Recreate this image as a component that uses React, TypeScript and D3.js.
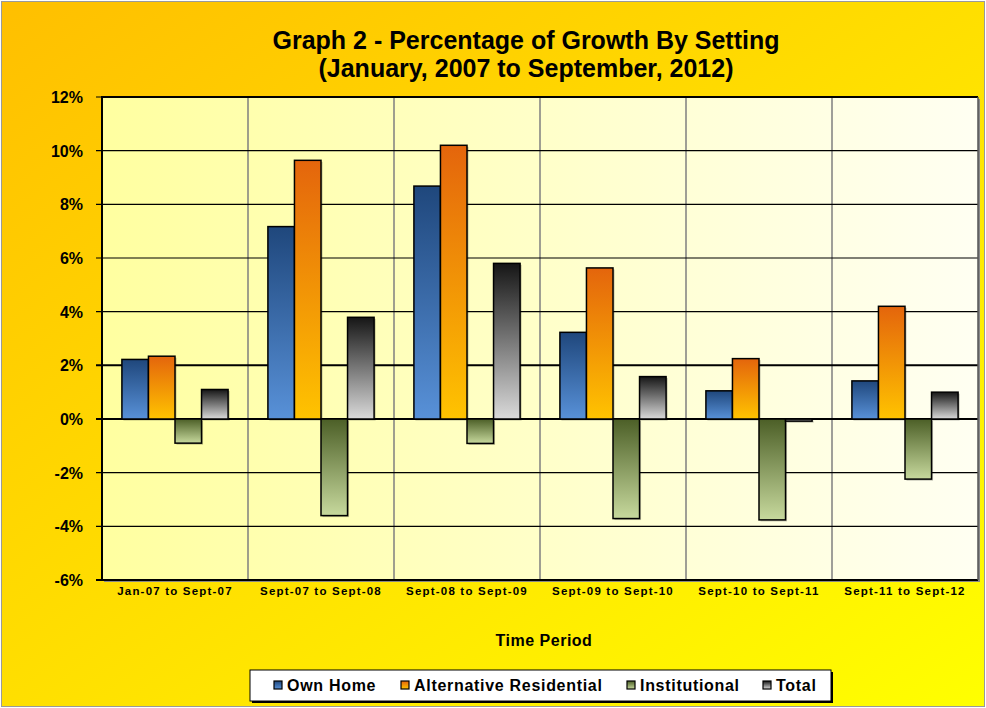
import React from 'react';
import * as d3 from 'd3';

const width = 986;
const height = 708;
const margin = { top: 97, right: 8, bottom: 128, left: 102 };

const categories = [
  'Jan-07 to Sept-07',
  'Sept-07 to Sept-08',
  'Sept-08 to Sept-09',
  'Sept-09 to Sept-10',
  'Sept-10 to Sept-11',
  'Sept-11 to Sept-12',
];
const seriesNames = ['Own Home', 'Alternative Residential', 'Institutional', 'Total'];
const ownHome = [2.22, 7.17, 8.68, 3.23, 1.05, 1.42];
const altResidential = [2.34, 9.64, 10.2, 5.63, 2.25, 4.2];
const institutional = [-0.9, -3.6, -0.91, -3.71, -3.76, -2.24];
const total = [1.1, 3.79, 5.8, 1.58, -0.08, 1.0];
const yTicks = [-6, -4, -2, 0, 2, 4, 6, 8, 10, 12];

const seriesValues = [ownHome, altResidential, institutional, total];
// gradient stops per series (top colour, bottom colour)
const seriesGrad = [
  ['#1f477c', '#5891d8'],
  ['#e4650c', '#ffc300'],
  ['#4c5f27', '#c7d99d'],
  ['#161616', '#dadada'],
];

const App = () => {
  const x = d3.scaleBand<string>()
    .domain(categories)
    .range([margin.left, width - margin.right])
    .paddingInner(0)
    .paddingOuter(0);

  const xInner = d3.scaleBand<string>()
    .domain(seriesNames)
    .range([0, x.bandwidth()])
    .paddingInner(0)
    .paddingOuter(0.75);

  const y = d3.scaleLinear()
    .domain([-6, 12])
    .range([height - margin.bottom, margin.top]);

  const plotLeft = margin.left;
  const plotRight = width - margin.right;
  const plotTop = y(12);
  const plotBottom = y(-6);

  const legendItems = [
    { name: seriesNames[0], x: 274 },
    { name: seriesNames[1], x: 401 },
    { name: seriesNames[2], x: 627 },
    { name: seriesNames[3], x: 763 },
  ];

  return (
    <svg width={width} height={height} style={{ position: 'absolute', left: 0, top: 0 }}
      fontFamily="Arial, 'Liberation Sans', sans-serif">
      <defs>
        <linearGradient id="bg" x1="0" y1="0" x2="1" y2="1">
          <stop offset="0%" stopColor="#ffbf00" />
          <stop offset="100%" stopColor="#ffff00" />
        </linearGradient>
        <linearGradient id="plotbg" x1="0" y1="0" x2="1" y2="0">
          <stop offset="0%" stopColor="#ffffa0" />
          <stop offset="100%" stopColor="#fffff2" />
        </linearGradient>
        {seriesGrad.map((g, i) => (
          <linearGradient key={i} id={`g${i}`} x1="0" y1="0" x2="0" y2="1">
            <stop offset="0%" stopColor={g[0]} />
            <stop offset="100%" stopColor={g[1]} />
          </linearGradient>
        ))}
      </defs>

      <rect x={1.5} y={1.5} width={width - 3} height={height - 3} fill="url(#bg)" stroke="#9a9a9a" strokeWidth={1} />

      {/* title */}
      <text x={526} y={49} textAnchor="middle" fontWeight="bold" fontSize={25}>
        Graph 2 - Percentage of Growth By Setting
      </text>
      <text x={526} y={77} textAnchor="middle" fontWeight="bold" fontSize={25}>
        (January, 2007 to September, 2012)
      </text>

      {/* plot area */}
      <rect x={plotLeft + 2} y={plotTop + 2} width={plotRight - plotLeft} height={plotBottom - plotTop} fill="#888" />
      <rect x={plotLeft} y={plotTop} width={plotRight - plotLeft} height={plotBottom - plotTop} fill="url(#plotbg)" />

      {/* vertical gridlines */}
      {categories.slice(1).map(c => (
        <line key={c} x1={x(c)} x2={x(c)} y1={plotTop} y2={plotBottom} stroke="#7f7f7f" strokeWidth={1.5} />
      ))}

      {/* horizontal gridlines */}
      {yTicks.map(t => (
        <line key={t} x1={plotLeft - 6} x2={plotRight} y1={y(t)} y2={y(t)} stroke="#000"
          strokeWidth={t === 0 || t === 2 ? 2 : 1.2} />
      ))}

      {/* bars */}
      {categories.map((c, ci) => (
        <g key={c} transform={`translate(${x(c)},0)`}>
          {seriesNames.map((s, si) => {
            const v = seriesValues[si][ci];
            const y0 = y(Math.max(0, v));
            const h = Math.max(Math.abs(y(v) - y(0)), 2);
            return (
              <g key={s}>
                <rect x={(xInner(s) as number) + 1.5} y={y0 + 1.5} width={xInner.bandwidth()} height={h}
                  fill="#000" opacity={0.25} />
                <rect x={xInner(s)} y={y0} width={xInner.bandwidth()} height={h}
                  fill={`url(#g${si})`} stroke="#000" strokeWidth={1.5} />
              </g>
            );
          })}
        </g>
      ))}

      {/* axes border */}
      <line x1={plotLeft} x2={plotRight} y1={plotTop} y2={plotTop} stroke="#000" strokeWidth={2} />
      <line x1={plotLeft} x2={plotLeft} y1={plotTop - 1} y2={plotBottom + 1} stroke="#000" strokeWidth={2} />
      <line x1={plotLeft - 6} x2={plotRight} y1={plotBottom} y2={plotBottom} stroke="#000" strokeWidth={2} />
      <line x1={plotRight} x2={plotRight} y1={plotTop} y2={plotBottom} stroke="#555" strokeWidth={1.5} />

      {/* y tick labels */}
      {yTicks.map(t => (
        <text key={t} x={83} y={y(t) + 6} textAnchor="end" fontWeight="bold" fontSize={16}>
          {`${t}%`}
        </text>
      ))}

      {/* x tick labels */}
      {categories.map(c => (
        <text key={c} x={(x(c) as number) + x.bandwidth() / 2} y={plotBottom + 15} textAnchor="middle"
          fontWeight="bold" fontSize={11.5} letterSpacing={1.2}>
          {c}
        </text>
      ))}

      <text x={544} y={646} textAnchor="middle" fontWeight="bold" fontSize={16} letterSpacing={0.5}>
        Time Period
      </text>

      {/* legend */}
      <rect x={252} y={672} width={581} height={31} fill="#000" />
      <rect x={250} y={670} width={581} height={31} fill="#fff" stroke="#000" strokeWidth={1} />
      {legendItems.map((it, i) => (
        <g key={it.name}>
          <rect x={it.x} y={681} width={8} height={8} fill={`url(#g${i})`} stroke="#000" strokeWidth={1.2} />
          <text x={it.x + 13} y={691} fontWeight="bold" fontSize={16} letterSpacing={0.7}>
            {it.name}
          </text>
        </g>
      ))}
    </svg>
  );
};

export default App;
